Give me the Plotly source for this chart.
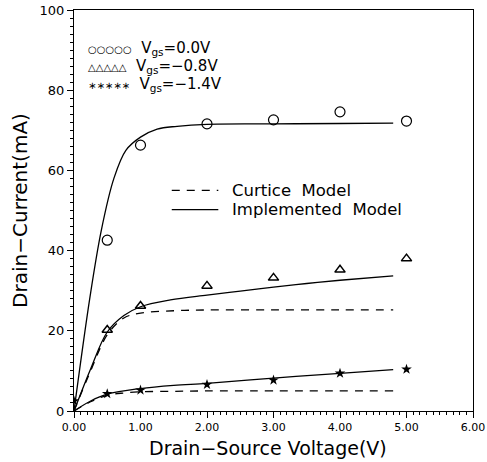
import plotly.graph_objects as go

# ---- data ----
vds_meas = [0.5, 1.0, 2.0, 3.0, 4.0, 5.0]
id_meas_vgs0 = [42.6, 66.3, 71.6, 72.6, 74.6, 72.3]
id_meas_vgs08 = [20.2, 26.2, 31.2, 33.2, 35.2, 38.0]
vds_meas_14 = [0.0, 0.5, 1.0, 2.0, 3.0, 4.0, 5.0]
id_meas_vgs14 = [2.5, 4.3, 5.2, 6.6, 7.7, 9.4, 10.4]

vds_impl_0 = [0, 0.24, 0.41, 0.6, 0.78, 1.0, 1.25, 1.55, 2.0, 3.0, 4.0, 4.8]
id_impl_0 = [0, 28.4, 45.0, 58.0, 65.0, 68.3, 70.3, 71.0, 71.5, 71.6, 71.7, 71.8]

vds_impl_08 = [0, 0.25, 0.5, 0.75, 1.0, 1.45, 2.0, 2.5, 3.0, 3.5, 4.0, 4.8]
id_impl_08 = [0, 10.5, 19.7, 23.8, 26.0, 27.7, 28.9, 29.9, 30.9, 31.8, 32.6, 33.7]

vds_curt_08 = [0, 0.25, 0.5, 0.75, 1.0, 1.5, 2.0, 3.0, 4.0, 4.8]
id_curt_08 = [0, 10.0, 19.0, 23.2, 24.4, 25.0, 25.2, 25.2, 25.2, 25.2]

vds_impl_14 = [0, 0.25, 0.5, 1.0, 1.5, 2.0, 3.0, 4.0, 4.8]
id_impl_14 = [0, 2.5, 4.2, 5.6, 6.4, 6.9, 8.2, 9.4, 10.3]

vds_curt_14 = [0, 0.25, 0.5, 0.75, 1.0, 1.5, 2.0, 4.8]
id_curt_14 = [0, 2.3, 3.9, 4.5, 4.8, 4.9, 5.0, 5.0]

x_ticks = [0, 1, 2, 3, 4, 5, 6]
x_ticklabels = ["0.00", "1.00", "2.00", "3.00", "4.00", "5.00", "6.00"]
y_ticks = [0, 20, 40, 60, 80, 100]

leg_symbols = ["○○○○○", "△△△△△", "∗∗∗∗∗"]
leg_labels = ["V<sub>gs</sub>=0.0V", "V<sub>gs</sub>=−0.8V", "V<sub>gs</sub>=−1.4V"]

FONT = "DejaVu Sans"
fig = go.Figure()

solid = dict(color="black", width=1.3)
dashed = dict(color="black", width=1.3, dash="8px,7px")

fig.add_trace(go.Scatter(x=vds_curt_08, y=id_curt_08, mode="lines", line=dashed, line_shape="spline"))
fig.add_trace(go.Scatter(x=vds_curt_14, y=id_curt_14, mode="lines", line=dashed, line_shape="spline"))
fig.add_trace(go.Scatter(x=vds_impl_0, y=id_impl_0, mode="lines", line=solid, line_shape="spline"))
fig.add_trace(go.Scatter(x=vds_impl_08, y=id_impl_08, mode="lines", line=solid, line_shape="spline"))
fig.add_trace(go.Scatter(x=vds_impl_14, y=id_impl_14, mode="lines", line=solid, line_shape="spline"))

fig.add_trace(go.Scatter(x=vds_meas, y=id_meas_vgs0, mode="markers",
                         marker=dict(symbol="circle-open", size=10, color="black", line=dict(width=1.2))))
fig.add_trace(go.Scatter(x=vds_meas, y=id_meas_vgs08, mode="markers",
                         marker=dict(symbol="triangle-up-open", size=9, color="black", line=dict(width=1.5))))
fig.add_trace(go.Scatter(x=vds_meas_14, y=id_meas_vgs14, mode="markers",
                         marker=dict(symbol="star", size=8, color="black")))

# legend-like rows
row_y = [90.3, 85.8, 81.3]
for s, t, yv in zip(leg_symbols, leg_labels, row_y):
    fig.add_annotation(x=0.18, y=yv, xref="x", yref="y",
                       text="<span style='font-size:10px'>" + s + "</span>  " + t,
                       showarrow=False, xanchor="left", yanchor="middle",
                       font=dict(family=FONT, size=15, color="black"))

fig.add_shape(type="line", x0=1.47, x1=2.17, y0=55.0, y1=55.0, xref="x", yref="y",
              line=dict(color="black", width=1.3, dash="8px,7px"))
fig.add_shape(type="line", x0=1.47, x1=2.17, y0=50.2, y1=50.2, xref="x", yref="y",
              line=dict(color="black", width=1.2))
fig.add_annotation(x=2.35, y=55.0, xref="x", yref="y", text="Curtice  Model", showarrow=False,
                   xanchor="left", font=dict(family=FONT, size=16.5, color="black"))
fig.add_annotation(x=2.35, y=50.2, xref="x", yref="y", text="Implemented  Model", showarrow=False,
                   xanchor="left", font=dict(family=FONT, size=16.5, color="black"))

# x-axis title as annotation below tick labels
fig.add_annotation(x=0.485, y=-0.092, xref="paper", yref="paper", text="Drain−Source Voltage(V)",
                   showarrow=False, xanchor="center", yanchor="middle",
                   font=dict(family=FONT, size=19, color="black"))

fig.update_layout(
    width=487, height=462,
    margin=dict(l=74, r=14, t=10, b=51),
    paper_bgcolor="white", plot_bgcolor="white",
    showlegend=False,
    font=dict(family=FONT, color="black"),
)
fig.update_xaxes(
    automargin=False,
    range=[0, 6], tickvals=x_ticks, ticktext=x_ticklabels,
    showgrid=False, zeroline=False, showline=True, linecolor="black", linewidth=1.3, mirror=True,
    ticks="outside", ticklen=6, tickcolor="black", tickwidth=1,
    minor=dict(dtick=0.1, ticks="outside", ticklen=3, tickcolor="black", tickwidth=1),
    tickfont=dict(family=FONT, size=11),
)
fig.update_yaxes(
    automargin=False,
    range=[0, 100], tickvals=y_ticks,
    showgrid=False, zeroline=False, showline=True, linecolor="black", linewidth=1.3, mirror=True,
    ticks="outside", ticklen=6, tickcolor="black", tickwidth=1,
    minor=dict(dtick=2, ticks="outside", ticklen=3, tickcolor="black", tickwidth=1),
    tickfont=dict(family=FONT, size=13),
    title=dict(text="Drain−Current(mA)", font=dict(family=FONT, size=20), standoff=6),
)

fig.write_html("out.html")
